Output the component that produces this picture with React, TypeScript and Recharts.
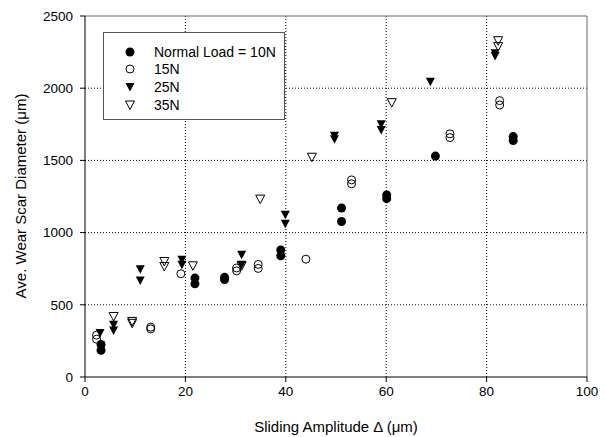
import React from 'react';
import { ScatterChart, Scatter, XAxis, YAxis, ReferenceLine, Legend } from 'recharts';

const load10N = [
  { x: 3.2, y: 225 }, { x: 3.2, y: 185 }, { x: 21.9, y: 685 }, { x: 21.9, y: 645 },
  { x: 27.8, y: 690 }, { x: 27.8, y: 675 }, { x: 39.0, y: 880 }, { x: 39.0, y: 840 },
  { x: 51.1, y: 1170 }, { x: 51.1, y: 1077 }, { x: 60.1, y: 1260 }, { x: 60.1, y: 1235 },
  { x: 69.8, y: 1530 }, { x: 85.3, y: 1665 }, { x: 85.3, y: 1637 },
];
const load15N = [
  { x: 2.3, y: 290 }, { x: 2.3, y: 262 }, { x: 13.1, y: 345 }, { x: 13.1, y: 333 },
  { x: 19.1, y: 715 }, { x: 30.2, y: 755 }, { x: 30.2, y: 735 }, { x: 34.5, y: 780 },
  { x: 34.5, y: 752 }, { x: 44.0, y: 816 }, { x: 53.1, y: 1365 }, { x: 53.1, y: 1338 },
  { x: 72.7, y: 1684 }, { x: 72.7, y: 1658 }, { x: 82.6, y: 1914 }, { x: 82.6, y: 1884 },
];
const load25N = [
  { x: 3.0, y: 304 }, { x: 5.7, y: 362 }, { x: 5.7, y: 322 }, { x: 11.0, y: 747 },
  { x: 11.0, y: 669 }, { x: 19.3, y: 812 }, { x: 19.3, y: 777 }, { x: 31.2, y: 846 },
  { x: 31.2, y: 777 }, { x: 39.9, y: 1123 }, { x: 39.9, y: 1061 }, { x: 49.7, y: 1670 },
  { x: 49.7, y: 1647 }, { x: 59.0, y: 1751 }, { x: 59.0, y: 1711 }, { x: 68.8, y: 2045 },
  { x: 81.7, y: 2242 }, { x: 81.7, y: 2223 },
];
const load35N = [
  { x: 5.7, y: 419 }, { x: 9.4, y: 385 }, { x: 9.4, y: 372 }, { x: 15.8, y: 800 },
  { x: 15.8, y: 765 }, { x: 21.5, y: 770 }, { x: 31.2, y: 770 }, { x: 34.9, y: 1232 },
  { x: 45.2, y: 1522 }, { x: 61.1, y: 1900 }, { x: 82.3, y: 2329 }, { x: 82.3, y: 2288 },
];

const seriesNames = ['Normal Load = 10N', '15N', '25N', '35N'];
const xTicks = [0, 20, 40, 60, 80, 100];
const yTicks = [0, 500, 1000, 1500, 2000, 2500];
const xGrid = [20, 40, 60, 80];
const yGrid = [500, 1000, 1500, 2000];

const FONT = "Arial, 'Liberation Sans', sans-serif";

type Kind = 'fc' | 'oc' | 'ft' | 'ot';

const Marker = ({ kind, cx, cy }: { kind: Kind; cx: number; cy: number }) => {
  if (kind === 'fc') return <circle cx={cx} cy={cy} r={4.5} fill="#000" />;
  if (kind === 'oc') return <circle cx={cx} cy={cy} r={4} fill="none" stroke="#000" strokeWidth={1} />;
  const pts = `${cx - 4.5},${cy - 4} ${cx + 4.5},${cy - 4} ${cx},${cy + 4.5}`;
  if (kind === 'ft') return <polygon points={pts} fill="#000" />;
  return <polygon points={pts} fill="none" stroke="#000" strokeWidth={1} />;
};

const shapeOf = (kind: Kind) => (props: any) => <Marker kind={kind} cx={props.cx} cy={props.cy} />;

const kinds: Kind[] = ['fc', 'oc', 'ft', 'ot'];

const LegendBox = () => (
  <div
    style={{
      width: 182,
      height: 88,
      border: '1px solid #555',
      background: '#fff',
      boxSizing: 'border-box',
      fontFamily: FONT,
      fontSize: 14,
      color: '#000',
      paddingTop: 10,
    }}
  >
    {seriesNames.map((n, i) => (
      <div key={n} style={{ display: 'flex', alignItems: 'center', height: 17.6 }}>
        <svg width={50} height={14} style={{ display: 'block' }}>
          <Marker kind={kinds[i]} cx={26} cy={7} />
        </svg>
        <span style={{ lineHeight: '14px' }}>{n}</span>
      </div>
    ))}
  </div>
);

const XTitle = () => (
  <text x={336} y={432} textAnchor="middle" fontFamily={FONT} fontSize={15} fill="#000">
    Sliding Amplitude Δ (μm)
  </text>
);

const YTitle = () => (
  <text
    x={26}
    y={196}
    transform="rotate(-90 26 196)"
    textAnchor="middle"
    fontFamily={FONT}
    fontSize={15}
    fill="#000"
  >
    Ave. Wear Scar Diameter (μm)
  </text>
);

export default function App() {
  return (
    <div style={{ position: 'absolute', left: 0, top: 0, width: 606, height: 437, background: '#fff' }}>
      <ScatterChart width={606} height={437} margin={{ top: 16, right: 19, left: 0, bottom: 0 }}>
        <XAxis
          type="number"
          dataKey="x"
          domain={[0, 100]}
          ticks={xTicks}
          height={60}
          tickSize={5}
          tickMargin={4}
          axisLine={{ stroke: '#000' }}
          tickLine={{ stroke: '#000' }}
          tick={{ fill: '#000', fontSize: 13.5, fontFamily: FONT }}
          label={<XTitle />}
        />
        <YAxis
          type="number"
          dataKey="y"
          domain={[0, 2500]}
          ticks={yTicks}
          width={85}
          tickSize={5}
          tickMargin={7}
          axisLine={{ stroke: '#000' }}
          tickLine={{ stroke: '#000' }}
          tick={{ fill: '#000', fontSize: 13.5, fontFamily: FONT }}
          label={<YTitle />}
        />
        {yGrid.map((v) => (
          <ReferenceLine key={`h${v}`} y={v} stroke="#000" strokeDasharray="1 2" />
        ))}
        {xGrid.map((v) => (
          <ReferenceLine key={`v${v}`} x={v} stroke="#000" strokeDasharray="1 2" />
        ))}
        <ReferenceLine y={2500} stroke="#666" />
        <ReferenceLine x={100} stroke="#666" />
        <Legend
          layout="vertical"
          align="center"
          verticalAlign="middle"
          wrapperStyle={{ left: 103, top: 32, width: 184, height: 90 }}
          content={() => <LegendBox />}
        />
        <Scatter name={seriesNames[0]} data={load10N} shape={shapeOf('fc')} isAnimationActive={false} />
        <Scatter name={seriesNames[1]} data={load15N} shape={shapeOf('oc')} isAnimationActive={false} />
        <Scatter name={seriesNames[2]} data={load25N} shape={shapeOf('ft')} isAnimationActive={false} />
        <Scatter name={seriesNames[3]} data={load35N} shape={shapeOf('ot')} isAnimationActive={false} />
      </ScatterChart>
    </div>
  );
}
